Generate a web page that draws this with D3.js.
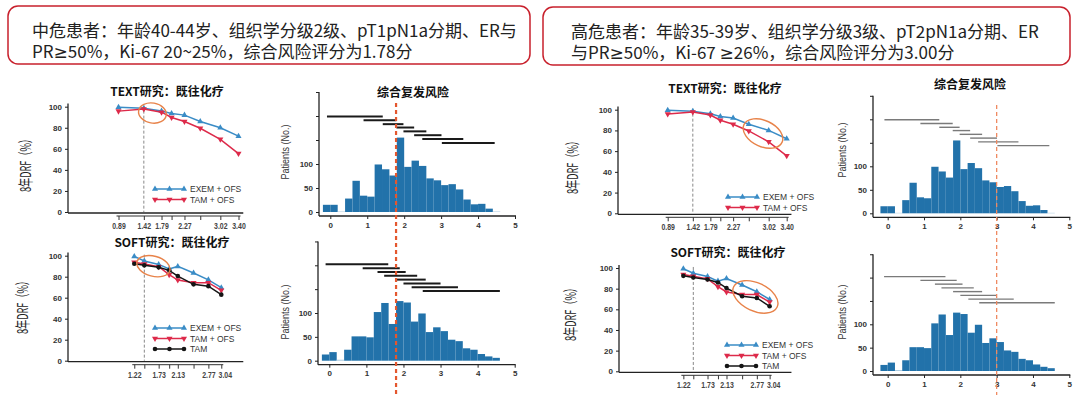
<!DOCTYPE html>
<html>
<head>
<meta charset="utf-8">
<script src="https://cdn.jsdelivr.net/npm/d3@7"></script>
<style>
  body { margin: 0; background: #fff; }
  svg { display: block; }
</style>
</head>
<body>
<div id="graph"></div>
<script>
// ---- data ----
var textX = [0.89, 1.42, 1.79, 2.00, 2.27, 2.60, 3.02, 3.40];
var textXLabels = ["0.89", "1.42", "1.79", "", "2.27", "", "3.02", "3.40"];
var textExem = [99.5, 98.5, 96, 93.5, 92, 86, 80, 72];
var textTamOfs = [95.8, 97.8, 94.8, 89.8, 86, 79.5, 69, 55.5];

var softX = [1.22, 1.43, 1.73, 1.95, 2.13, 2.46, 2.77, 3.04];
var softXLabels = ["1.22", "", "1.73", "", "2.13", "", "2.77", "3.04"];
var softExem = [99.3, 95, 91.7, 87.3, 89.8, 83.5, 77, 69.5];
var softTamOfs = [93.7, 92, 89.5, 81.9, 76.8, 74.3, 74.3, 67];
var softTam = [92.4, 90.8, 88.9, 86, 80.6, 72.7, 71, 62.9];

var binStarts = [-0.2, 0, 0.2, 0.4, 0.6, 0.8, 1.0, 1.2, 1.4, 1.6, 1.8, 2.0, 2.2, 2.4, 2.6, 2.8, 3.0, 3.2, 3.4, 3.6, 3.8, 4.0, 4.2, 4.4];
var textHist = [15, 15, 1, 28, 65, 34, 32, 99, 89, 76, 155, 94, 107, 96, 70, 66, 56, 58, 47, 26, 16, 17, 7, 1];
var softHist = [13, 18, 2, 23, 51, 51, 49, 102, 121, 77, 125, 122, 82, 99, 60, 70, 62, 44, 41, 26, 23, 14, 9, 6];

var textRanges = [[-0.09, 1.42], [0.9, 1.79], [1.42, 1.98], [1.79, 2.27], [1.98, 2.6], [2.27, 3.01], [2.49, 3.6], [3.02, 4.45]];
var textRangeY = [199, 191, 183, 176, 168, 160, 152, 144];
var softRanges = [[-0.1, 1.59], [0.9, 1.9], [1.3, 2.06], [1.48, 2.37], [1.8, 2.6], [2.0, 3.0], [2.22, 3.47], [2.52, 4.6]];
var softRangeY = [202, 194, 186, 178, 170, 162, 154, 146];

var yTicksLine = [0, 20, 40, 60, 80, 100];
var yTicksHist = [0, 50, 100, 150, 200, 250];
var xTicksHist = [0, 1, 2, 3, 4, 5];

var headers = [
  ["中危患者：年龄40-44岁、组织学分级2级、pT1pN1a分期、ER与", "PR≥50%，Ki-67 20~25%，综合风险评分为1.78分"],
  ["高危患者：年龄35-39岁、组织学分级3级、pT2pN1a分期、ER", "与PR≥50%，Ki-67 ≥26%，综合风险评分为3.00分"]
];
var riskScores = [1.78, 3.00];

var blue = "#3a8cc6", red = "#dd2a4a", black = "#151515", barColor = "#2272aa";
var cjk = "'Noto Sans CJK SC', sans-serif";
var num = "'Liberation Sans', Arial, sans-serif";

var svg = d3.select("#graph").append("svg")
    .attr("width", 1080)
    .attr("height", 395);

// ---- header boxes ----
var boxes = [{x: 8, y: 6, w: 522, h: 58, tx: 32}, {x: 543, y: 7, w: 527, h: 58, tx: 571}];
boxes.forEach(function(b, i) {
    svg.append("rect")
        .attr("x", b.x).attr("y", b.y).attr("width", b.w).attr("height", b.h)
        .attr("rx", 10)
        .attr("fill", "none")
        .attr("stroke", "#c8202c")
        .attr("stroke-width", 1.5);
    headers[i].forEach(function(t, j) {
        var txt = svg.append("text")
            .attr("x", b.tx).attr("y", b.y + 30.5 + j * 21)
            .style("font-family", cjk)
            .style("font-size", "17px")
            .style("fill", "#222");
        // the ≥ sign in the CJK font is too wide, use a latin one
        t.split("≥").forEach(function(part, k) {
            if (k > 0) txt.append("tspan").style("font-family", "'DejaVu Sans', sans-serif").text("≥");
            txt.append("tspan").text(part);
        });
    });
});

// ---- line chart ----
function lineChart(o) {
    var g = svg.append("g");
    var x = d3.scaleLinear().domain([o.xd[0], o.xd[1]]).range([o.xr[0], o.xr[1]]);
    var y = d3.scaleLinear().domain([0, 100]).range([o.y0, o.y100]);

    // y axis
    var yAxis = d3.axisLeft(y).tickValues(yTicksLine).tickSize(3).tickPadding(3);
    var ga = g.append("g")
        .attr("transform", "translate(" + o.ax + ",0)")
        .call(yAxis);
    ga.select(".domain").attr("d", "M0," + y(103) + "V" + (y(0) + 1)).attr("stroke", "#222").attr("stroke-width", 1.3);
    ga.selectAll(".tick line").attr("stroke", "#222");
    ga.selectAll(".tick text").style("font-family", num).style("font-size", "8px").style("font-weight", "bold").style("fill", "#333");

    // frame bottom line
    g.append("line")
        .attr("x1", o.ax).attr("x2", x(3.5))
        .attr("y1", y(0) + 1).attr("y2", y(0) + 1)
        .attr("stroke", "#222").attr("stroke-width", 1.3);

    // tick axis below
    var xAxis = d3.axisBottom(x).tickValues(o.xs).tickSize(4).tickPadding(3)
        .tickFormat(function(d, i) { return o.xl[i]; });
    var gx = g.append("g")
        .attr("transform", "translate(0," + (y(0) + 4) + ")")
        .call(xAxis);
    gx.select(".domain").attr("d", "M" + (x(o.xs[0]) - 2) + ",0H" + (x(o.xs[o.xs.length - 1]) + 2)).attr("stroke", "#333");
    gx.selectAll(".tick line").attr("stroke", "#333");
    gx.selectAll(".tick text")
        .filter(function(d, i) { return o.xl[i] != ""; })
        .attr("textLength", 13.5).attr("lengthAdjust", "spacingAndGlyphs")
        .style("font-family", num).style("font-size", "8.5px").style("font-weight", "bold")
        .style("fill", "#444")
        .attr("dx", function(d) {
            // push the last label right when it crowds the previous one
            var n = o.xs.length;
            return (d == o.xs[n - 1] && x(o.xs[n - 1]) - x(o.xs[n - 2]) < 16) ? 3.5 : 0;
        });

    // dashed reference
    g.append("line")
        .attr("x1", x(o.ref)).attr("x2", x(o.ref))
        .attr("y1", y(101)).attr("y2", y(0))
        .attr("stroke", "#888").attr("stroke-width", 1)
        .attr("stroke-dasharray", "3,2");

    // series
    o.series.forEach(function(s) {
        var pts = o.xs.map(function(v, i) { return [v, s.values[i]]; });
        g.append("path")
            .datum(pts)
            .attr("fill", "none")
            .attr("stroke", s.color)
            .attr("stroke-width", 1.5)
            .attr("d", d3.line().x(function(d) { return x(d[0]); }).y(function(d) { return y(d[1]); }));
        drawMarks(g, pts.map(function(d) { return [x(d[0]), y(d[1])]; }), s);
    });

    // legend
    o.series.forEach(function(s, i) {
        var ly = o.leg[1] + i * 10.5;
        g.append("line")
            .attr("x1", o.leg[0]).attr("x2", o.leg[0] + 31)
            .attr("y1", ly).attr("y2", ly)
            .attr("stroke", s.color).attr("stroke-width", 1.5);
        drawMarks(g, [[o.leg[0] + 1, ly], [o.leg[0] + 15.5, ly], [o.leg[0] + 30, ly]], s);
        g.append("text")
            .attr("x", o.leg[0] + 36).attr("y", ly + 3)
            .style("font-family", num).style("font-size", "8.5px")
            .style("fill", "#333")
            .text(s.name);
    });

    // highlight ellipse
    g.append("ellipse")
        .attr("transform", "translate(" + x(o.ell.cx) + "," + y(o.ell.cy) + ") rotate(" + o.ell.rot + ")")
        .attr("rx", o.ell.rx).attr("ry", o.ell.ry)
        .attr("fill", "none")
        .attr("stroke", "#e8834a").attr("stroke-width", 1.4);

    // title
    g.append("text")
        .attr("x", o.title[0]).attr("y", o.title[1])
        .attr("text-anchor", "middle")
        .style("font-family", cjk).style("font-size", "12px").style("font-weight", "bold")
        .style("fill", "#111")
        .text(o.titleText);

    // y label
    g.append("text")
        .attr("transform", "translate(" + o.ylab[0] + "," + o.ylab[1] + ") rotate(-90)")
        .attr("text-anchor", "middle")
        .attr("textLength", 58).attr("lengthAdjust", "spacingAndGlyphs")
        .style("font-family", cjk).style("font-size", "15px")
        .style("fill", "#222")
        .text("8年DRF（%）");
}

function drawMarks(g, pts, s) {
    if (s.mark == "circle") {
        g.selectAll(null).data(pts).enter().append("circle")
            .attr("cx", function(d) { return d[0]; })
            .attr("cy", function(d) { return d[1]; })
            .attr("r", 2.3)
            .attr("fill", s.color);
    } else {
        g.selectAll(null).data(pts).enter().append("path")
            .attr("transform", function(d) { return "translate(" + d[0] + "," + d[1] + ")" + (s.mark == "down" ? " rotate(180)" : ""); })
            .attr("d", d3.symbol(d3.symbolTriangle).size(16))
            .attr("fill", s.color);
    }
}

// ---- histogram ----
function histChart(o) {
    var g = svg.append("g");
    var x = d3.scaleLinear().domain([0, 5]).range([o.xr[0], o.xr[1]]);
    var y = d3.scaleLinear().domain([0, 100]).range([o.y0, o.y100]);
    var axisY = y(0) + 4;

    g.selectAll(".bar")
        .data(o.counts)
        .enter().append("rect")
        .attr("x", function(d, i) { return x(binStarts[i]); })
        .attr("width", function(d, i) { return x(binStarts[i] + 0.2) - x(binStarts[i]); })
        .attr("y", function(d) { return y(d); })
        .attr("height", function(d) { return y(0) - y(d); })
        .attr("fill", function(d) { return d < 3 ? "#a9c9df" : barColor; });

    // range lines
    o.ranges.forEach(function(r, i) {
        g.append("line")
            .attr("x1", x(r[0])).attr("x2", x(r[1]))
            .attr("y1", y(o.rangeY[i])).attr("y2", y(o.rangeY[i]))
            .attr("stroke", o.rangeColor).attr("stroke-width", o.rangeW);
    });

    // y axis
    var yAxis = d3.axisLeft(y).tickValues(yTicksHist).tickSize(3).tickPadding(3)
        .tickFormat(function(d) { return d <= 100 ? d : ""; });
    var ga = g.append("g")
        .attr("transform", "translate(" + o.ax + ",0)")
        .call(yAxis);
    ga.select(".domain").attr("d", "M0," + y(250) + "V" + axisY).attr("stroke", "#222").attr("stroke-width", 1.3);
    ga.selectAll(".tick line").attr("stroke", "#222");
    ga.selectAll(".tick text").style("font-family", num).style("font-size", "8px").style("font-weight", "bold").style("fill", "#333");

    // x axis
    var xAxis = d3.axisBottom(x).tickValues(xTicksHist).tickSize(3).tickPadding(3).tickFormat(d3.format("d"));
    var gx = g.append("g")
        .attr("transform", "translate(0," + axisY + ")")
        .call(xAxis);
    gx.select(".domain").attr("d", "M" + o.ax + ",0H" + (x(5) + 1)).attr("stroke", "#222").attr("stroke-width", 1.3);
    gx.selectAll(".tick line").attr("stroke", "#222");
    gx.selectAll(".tick text").style("font-family", num).style("font-size", "8px").style("font-weight", "bold").style("fill", "#333");

    g.append("text")
        .attr("transform", "translate(" + o.ylab[0] + "," + o.ylab[1] + ") rotate(-90)")
        .attr("text-anchor", "middle")
        .attr("textLength", 55).attr("lengthAdjust", "spacingAndGlyphs")
        .style("font-family", num).style("font-size", "10px")
        .style("fill", "#333")
        .text("Patients (No.)");

    if (o.title) {
        g.append("text")
            .attr("x", o.title[0]).attr("y", o.title[1])
            .attr("text-anchor", "middle")
            .style("font-family", cjk).style("font-size", "12px").style("font-weight", "bold")
            .style("fill", "#111")
            .text("综合复发风险");
    }
    return x;
}

var textSeries = [
    {name: "EXEM + OFS", values: textExem, color: blue, mark: "up"},
    {name: "TAM + OFS", values: textTamOfs, color: red, mark: "down"}
];
var softSeries = [
    {name: "EXEM + OFS", values: softExem, color: blue, mark: "up"},
    {name: "TAM + OFS", values: softTamOfs, color: red, mark: "down"},
    {name: "TAM", values: softTam, color: black, mark: "circle"}
];

// left panel
lineChart({ax: 68, xd: [0.89, 3.40], xr: [118.5, 238.5], y0: 212, y100: 106.7,
    xs: textX, xl: textXLabels, ref: 1.42, series: textSeries, leg: [154, 189],
    ell: {cx: 1.6, cy: 94, rx: 14, ry: 10, rot: 10}, title: [167, 96], titleText: "TEXT研究：既往化疗", ylab: [31, 163]});
lineChart({ax: 68, xd: [0.89, 3.40], xr: [118.5, 238.5], y0: 360.7, y100: 255.7,
    xs: softX, xl: softXLabels, ref: 1.43, series: softSeries, leg: [154, 328],
    ell: {cx: 1.62, cy: 90, rx: 17, ry: 10, rot: 15}, title: [172, 247], titleText: "SOFT研究：既往化疗", ylab: [28, 305]});
var lx = histChart({ax: 319, xr: [330.3, 515], y0: 212, y100: 164, counts: textHist,
    ranges: textRanges, rangeY: textRangeY, rangeColor: "#1a1a1a", rangeW: 2, ylab: [289, 152], title: [413, 97]});
histChart({ax: 318, xr: [329.3, 514.7], y0: 360.7, y100: 313, counts: softHist,
    ranges: softRanges, rangeY: softRangeY, rangeColor: "#1a1a1a", rangeW: 2, ylab: [289, 312]});

// right panel
lineChart({ax: 618, xd: [0.89, 3.40], xr: [667.7, 786.7], y0: 213.3, y100: 109.7,
    xs: textX, xl: textXLabels, ref: 1.42, series: textSeries, leg: [727, 197],
    ell: {cx: 2.9, cy: 77, rx: 21, ry: 13, rot: 25}, title: [725, 93], titleText: "TEXT研究：既往化疗", ylab: [578, 165]});
lineChart({ax: 619, xd: [0.89, 3.40], xr: [667.7, 786.7], y0: 371.3, y100: 268,
    xs: softX, xl: softXLabels, ref: 1.43, series: softSeries, leg: [726, 345],
    ell: {cx: 2.74, cy: 72, rx: 24, ry: 14, rot: 25}, title: [728, 257], titleText: "SOFT研究：既往化疗", ylab: [576, 312]});
var rx = histChart({ax: 873, xr: [887.7, 1069.3], y0: 213.3, y100: 166.3, counts: textHist,
    ranges: textRanges, rangeY: textRangeY, rangeColor: "#7a7a7a", rangeW: 1.4, ylab: [846, 150], title: [970, 89]});
histChart({ax: 873, xr: [887.7, 1069.3], y0: 371, y100: 324.3, counts: softHist,
    ranges: softRanges, rangeY: softRangeY, rangeColor: "#7a7a7a", rangeW: 1.4, ylab: [846, 312]});

// risk score markers
svg.append("line")
    .attr("x1", lx(riskScores[0])).attr("x2", lx(riskScores[0]))
    .attr("y1", 103).attr("y2", 395)
    .attr("stroke", "#e4572e").attr("stroke-width", 2.2)
    .attr("stroke-dasharray", "4,3");
svg.append("line")
    .attr("x1", rx(riskScores[1])).attr("x2", rx(riskScores[1]))
    .attr("y1", 105).attr("y2", 395)
    .attr("stroke", "#ef8a62").attr("stroke-width", 1.3)
    .attr("stroke-dasharray", "4,3");
</script>
</body>
</html>
